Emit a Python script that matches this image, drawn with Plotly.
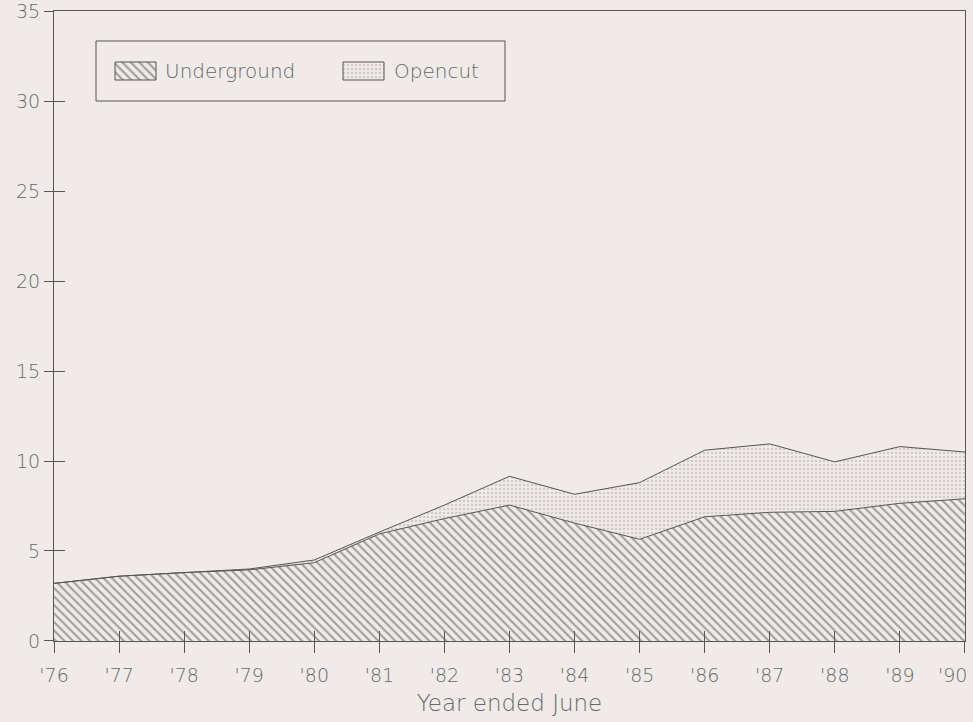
import plotly.graph_objects as go

# Coal production by mining method, year ended June
years = [1976, 1977, 1978, 1979, 1980, 1981, 1982, 1983, 1984, 1985, 1986, 1987, 1988, 1989, 1990]
year_labels = ["'76", "'77", "'78", "'79", "'80", "'81", "'82", "'83", "'84", "'85",
               "'86", "'87", "'88", "'89", "'90"]
underground = [3.2, 3.6, 3.8, 3.95, 4.35, 5.95, 6.8, 7.55, 6.55, 5.65, 6.9, 7.15, 7.2, 7.65, 7.9]
opencut = [0.0, 0.0, 0.0, 0.05, 0.15, 0.1, 0.75, 1.6, 1.6, 3.15, 3.7, 3.8, 2.75, 3.15, 2.6]
y_ticks = [0, 5, 10, 15, 20, 25, 30, 35]
series_names = ["Underground", "Opencut"]

BG = "#f0ebe9"
INK = "#555555"
TXT = "#686868"
FONT = "DejaVu Sans"
WEIGHT = 200

HATCH = dict(shape="\\", fgcolor="#505050", bgcolor=BG, size=6, solidity=0.35)
STIPPLE = dict(shape=".", fgcolor="#aca7a5", bgcolor=BG, size=4, solidity=0.3)
patterns = [HATCH, STIPPLE]

W, H = 973, 722
ML, MR, MT, MB = 54, 8, 11, 81
pw, ph = W - ML - MR, H - MT - MB
XR = [1975.999, 1990.001]
YR = [-0.0005, 35.0005]

fig = go.Figure()

for name, vals, pat in zip(series_names, [underground, opencut], patterns):
    fig.add_trace(go.Scatter(
        x=years, y=vals, name=name, stackgroup="coal",
        mode="lines", line=dict(color=INK, width=1),
        fillcolor=BG, fillpattern=pat, showlegend=False,
    ))

# Invisible trace on overlay axes, carrying the inner halves of the tick marks
fig.add_trace(go.Scatter(x=[years[0]], y=[0], xaxis="x2", yaxis="y2",
                         mode="markers", marker=dict(opacity=0), showlegend=False,
                         hoverinfo="skip"))

# Key box: drawn on pixel-scaled overlay axes in the upper-left of the plot
key = dict(left=96, right=505, top=41, bottom=101)
swatch_w, swatch_h = 41, 18
entries = [(115, 163), (343, 392)]  # swatch left edge, label left edge
for name, pat, (sx, tx) in zip(series_names, patterns, entries):
    cy = (key["top"] + key["bottom"]) / 2
    y0, y1 = cy - swatch_h / 2, cy + swatch_h / 2
    fig.add_trace(go.Scatter(
        x=[sx, sx + swatch_w, sx + swatch_w, sx, sx],
        y=[y0, y0, y1, y1, y0],
        xaxis="x3", yaxis="y3", mode="lines", fill="toself",
        line=dict(color=INK, width=1), fillcolor=BG, fillpattern=pat,
        showlegend=False, hoverinfo="skip",
    ))
    fig.add_annotation(x=tx, y=cy, xref="x3", yref="y3", text=name,
                       showarrow=False, xanchor="left", yanchor="middle",
                       font=dict(family=FONT, size=20, color=TXT, weight=WEIGHT))
fig.add_shape(type="rect", xref="x3", yref="y3",
              x0=key["left"], x1=key["right"], y0=key["top"], y1=key["bottom"],
              line=dict(color=INK, width=1), layer="below")

tick_font = dict(family=FONT, size=19, color=TXT, weight=WEIGHT)

# The last year label sits flush against the right edge of the frame
axis_labels = year_labels[:-1] + [""]
fig.add_annotation(x=years[-1], y=YR[0], xref="x", yref="y", text=year_labels[-1],
                   showarrow=False, xanchor="right", yanchor="middle",
                   xshift=4, yshift=-34, font=tick_font)

fig.update_layout(
    width=W, height=H,
    paper_bgcolor=BG, plot_bgcolor=BG,
    margin=dict(l=ML, r=MR, t=MT, b=MB, autoexpand=False),
    font=dict(family=FONT, color=TXT, size=19, weight=WEIGHT),
    showlegend=False,
    xaxis=dict(
        range=XR, tickmode="array", tickvals=years, ticktext=axis_labels,
        ticks="outside", ticklen=11, tickcolor=INK, tickwidth=1, ticklabelstandoff=6,
        showline=True, linecolor=INK, linewidth=1, mirror=True,
        showgrid=False, zeroline=False, automargin=False, ticklabeloverflow="allow",
        tickfont=tick_font,
        title=dict(text="Year ended June", standoff=10,
                   font=dict(family=FONT, size=23, color=TXT, weight=WEIGHT)),
    ),
    yaxis=dict(
        range=YR, tickmode="array", tickvals=y_ticks,
        ticks="outside", ticklen=9, tickcolor=INK, tickwidth=1,
        showline=True, linecolor=INK, linewidth=1, mirror=True,
        showgrid=False, zeroline=False, automargin=False, ticklabeloverflow="allow",
        tickfont=tick_font,
    ),
    xaxis2=dict(
        overlaying="x", range=XR, tickmode="array", tickvals=years,
        ticks="inside", ticklen=10, tickcolor=INK, tickwidth=1,
        showticklabels=False, showgrid=False, zeroline=False, showline=False,
        anchor="y2", automargin=False,
    ),
    yaxis2=dict(
        overlaying="y", range=YR, tickmode="array", tickvals=y_ticks,
        ticks="inside", ticklen=11, tickcolor=INK, tickwidth=1,
        showticklabels=False, showgrid=False, zeroline=False, showline=False,
        anchor="x2", side="left", automargin=False,
    ),
    # pixel-scaled overlay axes spanning the plot area, used for the key
    xaxis3=dict(overlaying="x", range=[ML, ML + pw], visible=False, anchor="y3"),
    yaxis3=dict(overlaying="y", range=[MT + ph, MT], visible=False, anchor="x3"),
)

fig.write_html("out.html")
